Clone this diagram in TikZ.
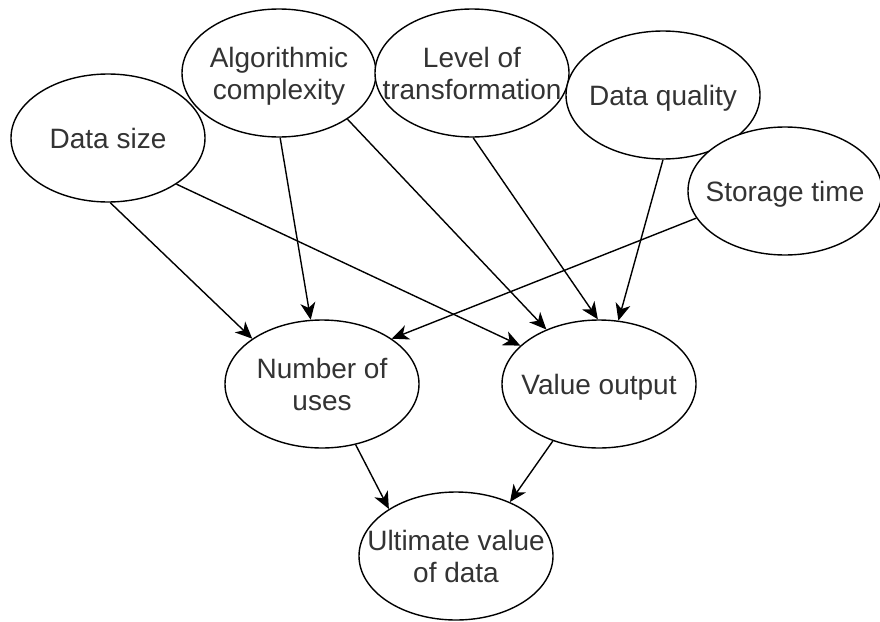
\documentclass[tikz,border=0pt]{standalone}
\usepackage{fontspec}
\setmainfont{Liberation Sans}
\usetikzlibrary{shapes.geometric,arrows.meta}

% label set in a zero-width box so that long lines do not widen the oval,
% lowered a little while keeping the box centred where it was
\newcommand{\ovaltext}[1]{\makebox[0pt]{\raisebox{-4pt}[\dimexpr\height+4pt\relax][\dimexpr\depth+4pt\relax]{\begin{tabular}{@{}c@{}}#1\end{tabular}}}}

\begin{document}
\begin{tikzpicture}[x=1pt,y=-1pt,
  factor/.style={ellipse, draw=black, line width=1.4pt, fill=white,
    minimum width=194pt, minimum height=128pt, inner sep=0pt,
    text=black!80, font=\fontsize{28}{32}\selectfont},
  link/.style={draw=black, line width=1.4pt,
    -{Stealth[length=17pt,width=15pt,inset=5pt]}}]
  \useasboundingbox (0,0) rectangle (880,621);
  \fill[white] (0,0) rectangle (880,621);

  % input factors
  \node[factor] (size)    at (108,138) {\ovaltext{Data size}};
  \node[factor] (algo)    at (279,73)  {\ovaltext{Algorithmic\\complexity}};
  \node[factor] (level)   at (472,73)  {\ovaltext{Level of\\transformation}};
  \node[factor] (quality) at (663,95)  {\ovaltext{Data quality}};
  \node[factor] (storage) at (785,191) {\ovaltext{Storage time}};

  % intermediate factors
  \node[factor] (uses)  at (322,384) {\ovaltext{Number of\\uses}};
  \node[factor] (value) at (599,384) {\ovaltext{Value output}};

  % result
  \node[factor] (ult) at (456,556) {\ovaltext{Ultimate value\\of data}};

  % influences
  \draw[link] (size.-88)    -- (uses.147);
  \draw[link] (size.-34)    -- (value.154);
  \draw[link] (algo.-89)    -- (uses.100);
  \draw[link] (algo.-34)    -- (value.134);
  \draw[link] (level.-89)   -- (value.91);
  \draw[link] (quality.-90) -- (value.73);
  \draw[link] (storage.197) -- (uses.33);
  \draw[link] (uses.-61)    -- (ult.145);
  \draw[link] (value.231)   -- (ult.45);
\end{tikzpicture}
\end{document}
